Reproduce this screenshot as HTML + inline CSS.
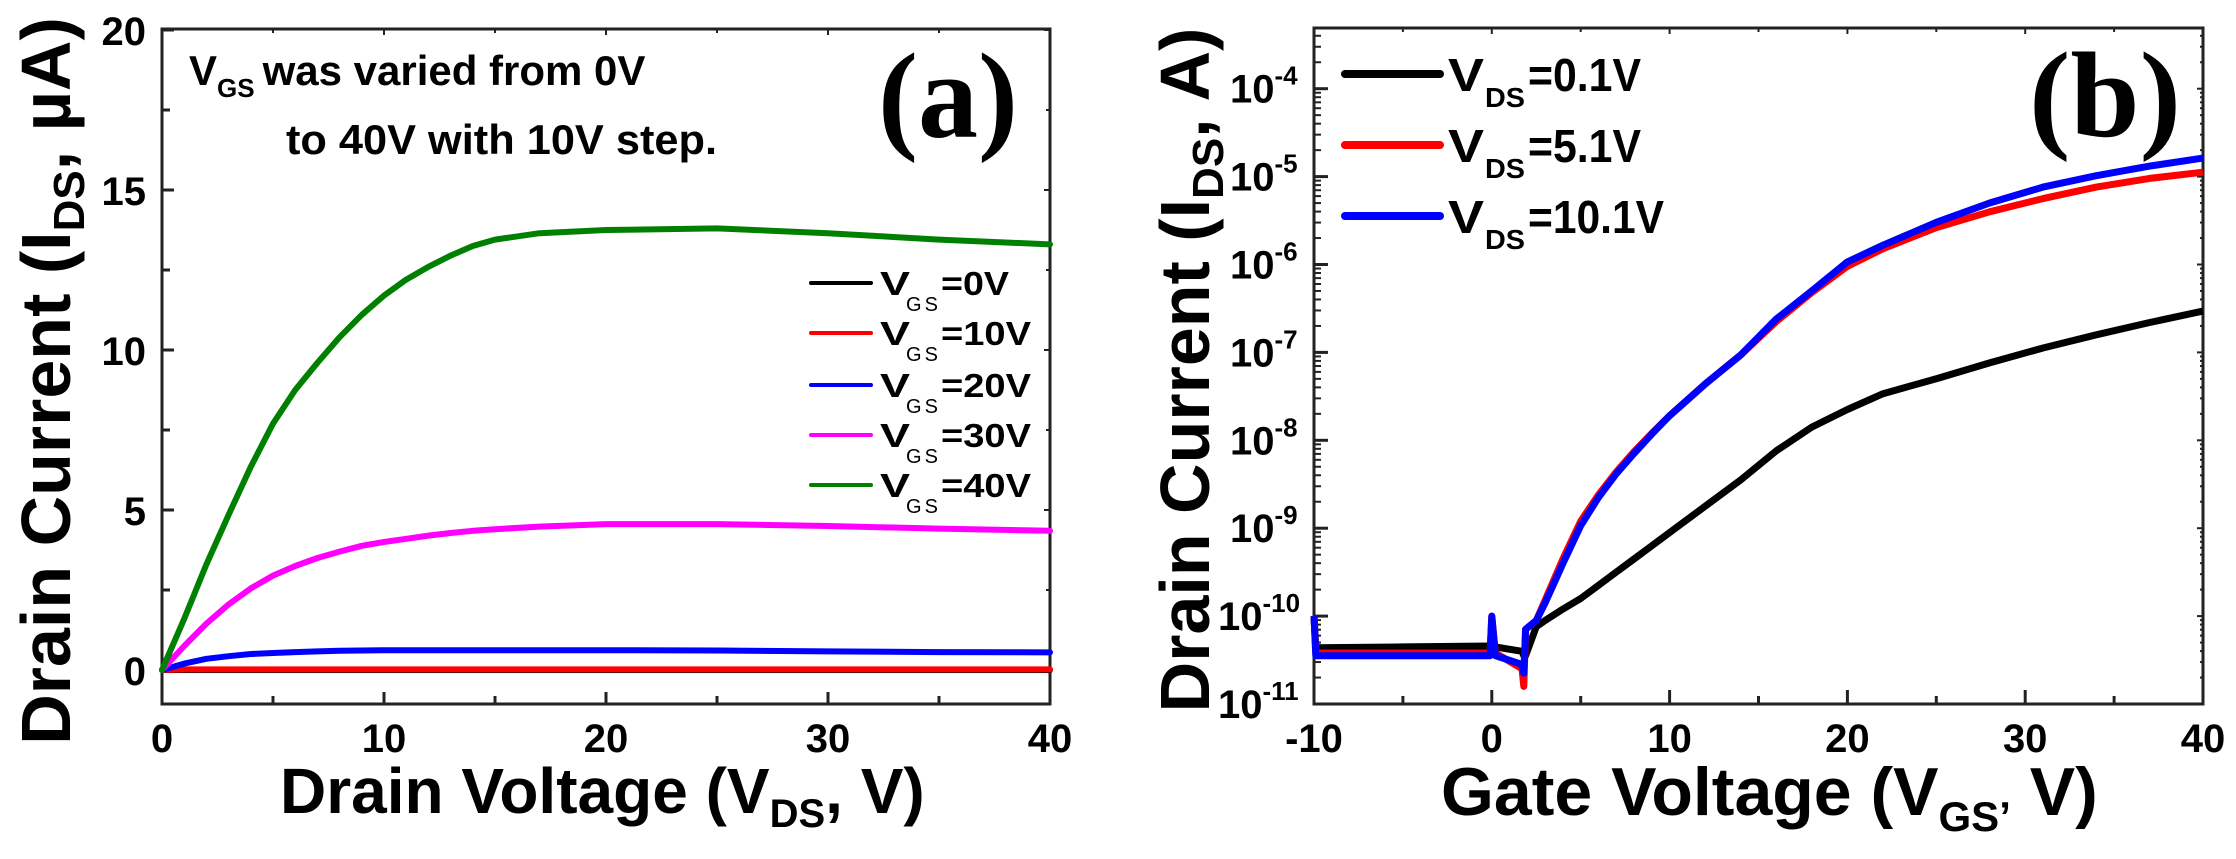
<!DOCTYPE html>
<html><head><meta charset="utf-8"><style>
html,body{margin:0;padding:0;background:#fff;}
svg{display:block;font-family:"Liberation Sans",sans-serif;font-weight:bold;}
</style></head><body>
<svg id="fig" width="2236" height="859" viewBox="0 0 2236 859" xmlns="http://www.w3.org/2000/svg">
<g id="pa"></g>
<g id="pb"></g>
</svg>
<script>
// ---------- Panel (a) data ----------
const aVds = [0, 1, 2, 3, 4, 5, 6, 7, 8, 9, 10, 11, 12, 13, 14, 15, 17, 20, 25, 30, 35, 40];
const aVgs0 = [0, 0, 0, 0, 0, 0, 0, 0, 0, 0, 0, 0, 0, 0, 0, 0, 0, 0, 0, 0, 0, 0];
const aVgs10 = [0, 0.02, 0.02, 0.02, 0.02, 0.02, 0.02, 0.02, 0.02, 0.02, 0.02, 0.02, 0.02, 0.02, 0.02, 0.02, 0.02, 0.02, 0.02, 0.02, 0.02, 0.02];
const aVgs20 = [0, 0.2, 0.35, 0.43, 0.5, 0.53, 0.56, 0.58, 0.6, 0.61, 0.62, 0.62, 0.62, 0.62, 0.62, 0.62, 0.62, 0.62, 0.61, 0.58, 0.56, 0.55];
const aVgs30 = [0, 0.75, 1.45, 2.05, 2.55, 2.95, 3.25, 3.5, 3.7, 3.88, 4.0, 4.1, 4.2, 4.28, 4.35, 4.4, 4.48, 4.56, 4.56, 4.5, 4.42, 4.35];
const aVgs40 = [0, 1.6, 3.3, 4.85, 6.35, 7.7, 8.75, 9.6, 10.4, 11.1, 11.7, 12.2, 12.6, 12.95, 13.25, 13.45, 13.65, 13.75, 13.8, 13.65, 13.45, 13.3];
const aXTicks = [0, 10, 20, 30, 40];
const aYTicks = [0, 5, 10, 15, 20];
const aLegend = ["=0V", "=10V", "=20V", "=30V", "=40V"];
// ---------- Panel (b) data ----------
const bVgs = [-10, -9.9, -5, -0.1, 0, 0.2, 1.7, 1.8, 1.9, 2.5, 3, 4, 5, 6, 7, 8, 9, 10, 12, 14, 16, 18, 20, 22, 25, 28, 31, 34, 37, 40];
const bVds01 = [-10, -10.36, -10.35, -10.34, -10.35, -10.35, -10.4, -10.45, -10.45, -10.12, -10.05, -9.92, -9.8, -9.65, -9.5, -9.35, -9.2, -9.05, -8.75, -8.45, -8.12, -7.85, -7.65, -7.47, -7.3, -7.12, -6.95, -6.8, -6.66, -6.53];
const bVds51 = [-10, -10.42, -10.42, -10.42, -10.0, -10.42, -10.6, -10.8, -10.15, -10.05, -9.82, -9.35, -8.92, -8.62, -8.36, -8.13, -7.92, -7.72, -7.36, -7.03, -6.65, -6.32, -6.02, -5.82, -5.58, -5.4, -5.25, -5.12, -5.02, -4.95];
const bVds101 = [-10, -10.45, -10.45, -10.45, -10.0, -10.45, -10.55, -10.65, -10.15, -10.05, -9.85, -9.4, -8.97, -8.65, -8.38, -8.15, -7.93, -7.72, -7.36, -7.03, -6.62, -6.3, -5.97, -5.78, -5.52, -5.3, -5.12, -4.99, -4.88, -4.79];
const bXTicks = [-10, 0, 10, 20, 30, 40];
const bYTicks = [-11, -10, -9, -8, -7, -6, -5, -4];
const bLegend = ["=0.1V", "=5.1V", "=10.1V"];

const NS = "http://www.w3.org/2000/svg";
function mk(parent, tag, attrs, text){
  const e = document.createElementNS(NS, tag);
  for (const k in attrs) e.setAttribute(k, attrs[k]);
  if (text !== undefined) e.textContent = text;
  parent.appendChild(e);
  return e;
}
function pathFrom(xs, ys, fx, fy){
  return xs.map((x,i)=>(i?"L":"M")+fx(x).toFixed(1)+","+fy(ys[i]).toFixed(1)).join(" ");
}

// ===== Panel (a) =====
const pa = document.getElementById("pa");
const aL=162, aR=1050, aT=29, aB=704;
const ax = v => aL + (v-0)/(40-0)*(aR-aL);
const ay = v => 670 - v*32;
let e;
e = mk(pa,"rect",{x:aL,y:aT,width:aR-aL,height:aB-aT,fill:"none",stroke:"#222","stroke-width":3});
 
for (let v=0; v<=40; v+=5){
  const big = v%10===0;
  e = mk(pa,"line",{x1:ax(v),x2:ax(v),y1:aB,y2:aB-(big?12:8),stroke:"#222","stroke-width":3});
   
  mk(pa,"line",{x1:ax(v),x2:ax(v),y1:aT,y2:aT+(big?6:4),stroke:"#222","stroke-width":2});
}
for (let v=0; v<=20; v+=2.5){
  const big = v%5===0;
  e = mk(pa,"line",{x1:aL,x2:aL+(big?12:8),y1:ay(v),y2:ay(v),stroke:"#222","stroke-width":3});
   
  mk(pa,"line",{x1:aR,x2:aR-(big?6:4),y1:ay(v),y2:ay(v),stroke:"#222","stroke-width":2});
}
aXTicks.forEach(v=>{
  e = mk(pa,"text",{x:ax(v),y:752,"text-anchor":"middle","font-size":40},String(v));
   
});
aYTicks.forEach(v=>{
  e = mk(pa,"text",{x:146,y:ay(v)+15,"text-anchor":"end","font-size":40},String(v));
   
});
const aSeries = [[aVgs0,"#000000"],[aVgs10,"#ff0000"],[aVgs20,"#0000ff"],[aVgs30,"#ff00ff"],[aVgs40,"#008000"]];
const aNames = ["curve-vgs-0v","curve-vgs-10v","curve-vgs-20v","curve-vgs-30v","curve-vgs-40v"];
aSeries.forEach((s,i)=>{
  e = mk(pa,"path",{d:pathFrom(aVds,s[0],ax,ay),fill:"none",stroke:s[1],"stroke-width":6,"stroke-linejoin":"round","stroke-linecap":"round"});
   
});
// legend a
const aLegY = [283,333,385,435,485];
aLegend.forEach((lab,i)=>{
  const g = mk(pa,"g",{});
   
  mk(g,"line",{x1:811,x2:871,y1:aLegY[i],y2:aLegY[i],stroke:aSeries[i][1],"stroke-width":4,"stroke-linecap":"round"});
  mk(g,"text",{x:880,y:aLegY[i]+12,"font-size":33,textLength:30,lengthAdjust:"spacingAndGlyphs"},"V");
  mk(g,"text",{x:906,y:aLegY[i]+28,"font-size":20,"font-weight":"normal",textLength:32,lengthAdjust:"spacing"},"GS");
  mk(g,"text",{x:941,y:aLegY[i]+12,"font-size":33,textLength:lab.length>3?90:68,lengthAdjust:"spacingAndGlyphs"},lab);
});
// annotation
e = mk(pa,"text",{x:189,y:85,"font-size":42});
 
mk(e,"tspan",{},"V");
mk(e,"tspan",{"font-size":26,dy:12},"GS");
mk(e,"tspan",{dy:-12,dx:8},"was varied from 0V");
e = mk(pa,"text",{x:286,y:154,"font-size":42,textLength:431,lengthAdjust:"spacingAndGlyphs"},"to 40V with 10V step.");
 
e = mk(pa,"text",{x:878,y:137,"font-size":122,"font-family":"Liberation Serif, serif",textLength:140,lengthAdjust:"spacingAndGlyphs"},"(a)");
 
// axis titles a
e = mk(pa,"text",{x:280,y:813,"font-size":64});
 
mk(e,"tspan",{},"Drain Voltage (V");
mk(e,"tspan",{"font-size":40,dy:14},"DS");
mk(e,"tspan",{dy:-14},", V)");
e = mk(pa,"text",{transform:"translate(70,381) rotate(-90)","text-anchor":"middle","font-size":70});
 
mk(e,"tspan",{},"Drain Current (I");
mk(e,"tspan",{"font-size":44,dy:14},"DS");
mk(e,"tspan",{dy:-14},", \u00b5A)");

// ===== Panel (b) =====
const pb = document.getElementById("pb");
const bL=1314, bR=2203, bT=28, bB=704;
const bx = v => bL + (v+10)/50*(bR-bL);
const by = ex => 704 - (ex+11)*87.9;
e = mk(pb,"rect",{x:bL,y:bT,width:bR-bL,height:bB-bT,fill:"none",stroke:"#222","stroke-width":3});
 
for (let v=-10; v<=40; v+=5){
  const big = v%10===0;
  e = mk(pb,"line",{x1:bx(v),x2:bx(v),y1:bB,y2:bB-(big?14:8),stroke:"#222","stroke-width":3});
   
  mk(pb,"line",{x1:bx(v),x2:bx(v),y1:bT,y2:bT+(big?6:4),stroke:"#222","stroke-width":2});
}
for (let d=-11; d<=-4; d++){
  for (let m=1; m<=9; m++){
    const ex = d + Math.log10(m);
    const y = by(ex);
    if (y < bT) continue;
    e = mk(pb,"line",{x1:bL,x2:bL+(m===1?14:7),y1:y,y2:y,stroke:"#222","stroke-width":m===1?3:2});
     
    mk(pb,"line",{x1:bR,x2:bR-(m===1?6:3),y1:y,y2:y,stroke:"#222","stroke-width":2});
  }
}
bXTicks.forEach(v=>{
  e = mk(pb,"text",{x:bx(v),y:752,"text-anchor":"middle","font-size":40},String(v));
   
});
bYTicks.forEach(ex=>{
  const w = String(ex).length>2 ? 1218 : 1230;
  e = mk(pb,"text",{x:w,y:by(ex)+14,"text-anchor":"start","font-size":40});
   
  mk(e,"tspan",{},"10");
  mk(e,"tspan",{"font-size":26,dy:-18},String(ex));
});
const bSeries = [[bVds01,"#000000","curve-vds-0.1v"],[bVds51,"#ff0000","curve-vds-5.1v"],[bVds101,"#0000ff","curve-vds-10.1v"]];
bSeries.forEach(s=>{
  e = mk(pb,"path",{d:pathFrom(bVgs,s[0],bx,by),fill:"none",stroke:s[1],"stroke-width":7,"stroke-linejoin":"round"});
   
});
const bLegY = [74,145,216];
bLegend.forEach((lab,i)=>{
  const g = mk(pb,"g",{});
   
  mk(g,"line",{x1:1345,x2:1440,y1:bLegY[i],y2:bLegY[i],stroke:bSeries[i][1],"stroke-width":8,"stroke-linecap":"round"});
  mk(g,"text",{x:1448,y:bLegY[i]+17,"font-size":46,textLength:36,lengthAdjust:"spacingAndGlyphs"},"V");
  mk(g,"text",{x:1485,y:bLegY[i]+33,"font-size":28,textLength:40,lengthAdjust:"spacingAndGlyphs"},"DS");
  mk(g,"text",{x:1528,y:bLegY[i]+17,"font-size":46,textLength:lab.length>5?136:113,lengthAdjust:"spacingAndGlyphs"},lab);
});
e = mk(pb,"text",{x:2029,y:136,"font-size":122,"font-family":"Liberation Serif, serif",textLength:152,lengthAdjust:"spacingAndGlyphs"},"(b)");
 
e = mk(pb,"text",{x:1441,y:815,"font-size":68});
 
mk(e,"tspan",{},"Gate Voltage (V");
mk(e,"tspan",{"font-size":42,dy:16},"GS");
mk(e,"tspan",{"font-size":42},"\u2019");
mk(e,"tspan",{dy:-16}," V)");
e = mk(pb,"text",{transform:"translate(1209,370) rotate(-90)","text-anchor":"middle","font-size":70});
 
mk(e,"tspan",{},"Drain Current (I");
mk(e,"tspan",{"font-size":44,dy:14},"DS");
mk(e,"tspan",{dy:-14},",  A)");
</script>
</body></html>
